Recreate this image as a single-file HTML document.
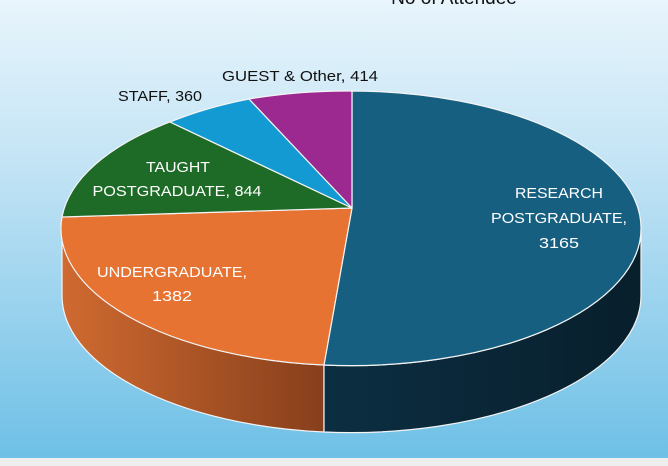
<!DOCTYPE html>
<html><head><meta charset="utf-8"><style>
html,body{margin:0;padding:0;}
body{width:668px;height:466px;overflow:hidden;background:#eee;}
svg{display:block}
text{font-family:"Liberation Sans",sans-serif;}
</style></head><body>
<svg width="668" height="466" viewBox="0 0 668 466">
<defs>
<linearGradient id="bg" x1="0" y1="0" x2="0" y2="1">
<stop offset="0" stop-color="#e8f5fc"/><stop offset="0.35" stop-color="#c4e4f5"/><stop offset="1" stop-color="#6ec0e6"/>
</linearGradient>
<linearGradient id="os" x1="0" y1="0" x2="1" y2="0">
<stop offset="0" stop-color="#cf6a30"/><stop offset="1" stop-color="#873f1c"/>
</linearGradient>
<linearGradient id="ds" x1="0" y1="0" x2="1" y2="0">
<stop offset="0" stop-color="#0c2e42"/><stop offset="1" stop-color="#081f2c"/>
</linearGradient>
</defs>
<rect x="0" y="0" width="668" height="458" fill="url(#bg)"/>
<rect x="0" y="458" width="668" height="8" fill="#eeeeee"/>
<text x="454" y="4" font-size="19" text-anchor="middle" fill="#111">No of Attendee</text>
<g stroke="#f4f4f4" stroke-width="1.2" stroke-linejoin="round">
<path d="M62,228 A290,137 0 0 0 324,365 L324,432 A290,137 0 0 1 62,295 Z" fill="url(#os)"/>
<path d="M324,365 A290,137 0 0 0 641,228 L641,295 A290,137 0 0 1 324,432 Z" fill="url(#ds)"/>
<path d="M352,208 L352,91 A290,137 0 0 1 641,228 A290,137 0 0 1 324,365 Z" fill="#165f80"/>
<path d="M352,208 L324,365 A290,137 0 0 1 62,217 Z" fill="#e67332"/>
<path d="M352,208 L62,217 A290,137 0 0 1 170,122 Z" fill="#1d6b27"/>
<path d="M352,208 L170,122 A290,137 0 0 1 249,99 Z" fill="#149ad3"/>
<path d="M352,208 L249,99 A290,137 0 0 1 352,91 Z" fill="#9b2990"/>
</g>
<g font-size="15" fill="#111" text-anchor="middle">
<text x="300" y="81" textLength="156" lengthAdjust="spacingAndGlyphs">GUEST &amp; Other, 414</text>
<text x="160" y="101" textLength="84" lengthAdjust="spacingAndGlyphs">STAFF, 360</text>
</g>
<g font-size="15" fill="#fff" text-anchor="middle">
<text x="178" y="172" textLength="64" lengthAdjust="spacingAndGlyphs">TAUGHT</text>
<text x="177" y="196" textLength="169" lengthAdjust="spacingAndGlyphs">POSTGRADUATE, 844</text>
<text x="559" y="198" textLength="88" lengthAdjust="spacingAndGlyphs">RESEARCH</text>
<text x="559" y="223" textLength="136" lengthAdjust="spacingAndGlyphs">POSTGRADUATE,</text>
<text x="559" y="248" textLength="40" lengthAdjust="spacingAndGlyphs">3165</text>
<text x="172" y="277" textLength="150" lengthAdjust="spacingAndGlyphs">UNDERGRADUATE,</text>
<text x="172" y="301" textLength="40" lengthAdjust="spacingAndGlyphs">1382</text>
</g>
</svg>
</body></html>
